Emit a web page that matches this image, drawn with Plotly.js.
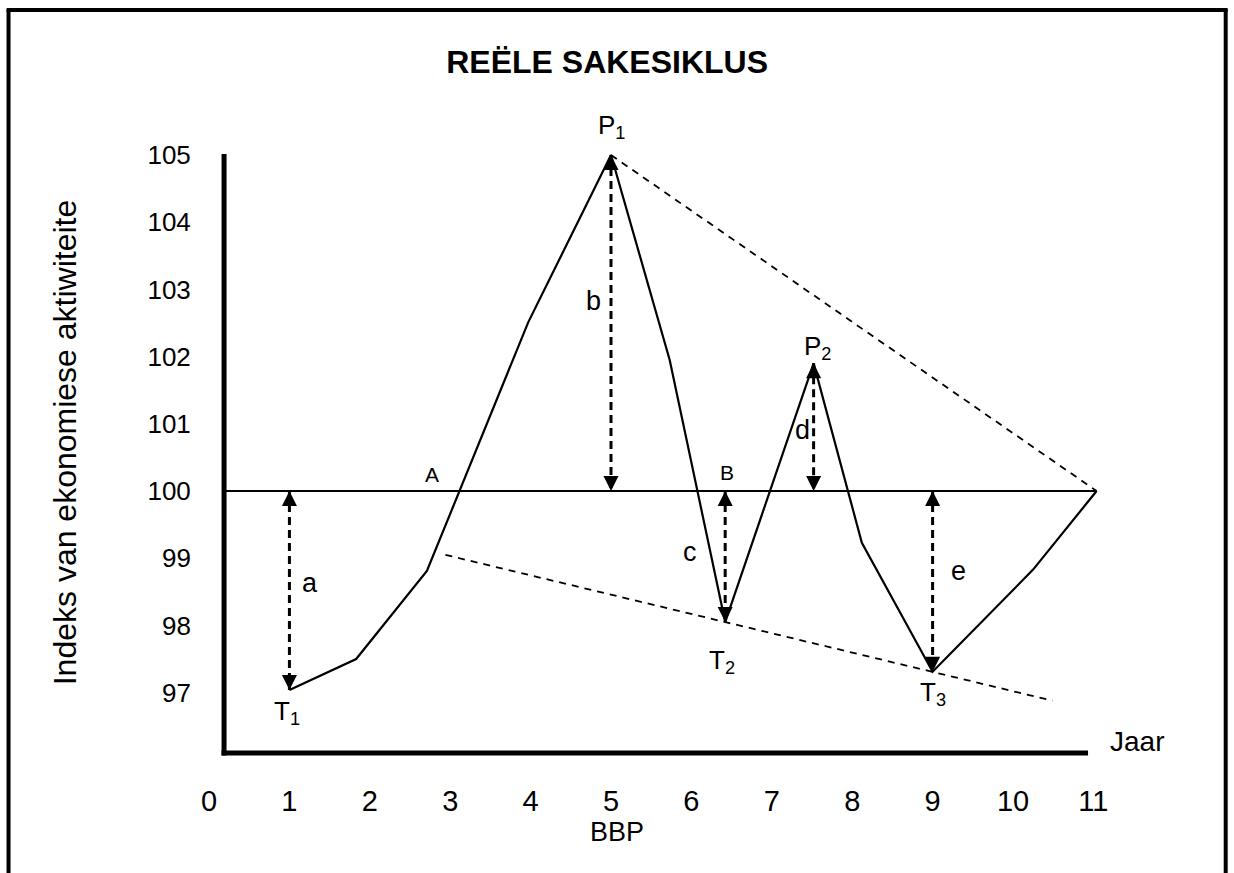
<!DOCTYPE html>
<html>
<head>
<meta charset="utf-8">
<script src="https://cdn.plot.ly/plotly-3.0.1.min.js"></script>
<style>html,body{margin:0;padding:0;background:#fff;}#chart{width:1234px;height:873px;}</style>
</head>
<body>
<div id="chart"></div>
<script>
// ---- data ----
var cycleX = [1, 1.83, 2.71, 3.97, 5.0, 5.73, 6.42, 7.52, 8.12, 9.0, 10.25, 11.04];
var cycleY = [97.04, 97.50, 98.81, 102.51, 105.0, 101.95, 98.05, 101.90, 99.23, 97.31, 98.83, 100.0];

var baseX = [0.19, 11.04];
var baseY = [100, 100];

var upperTrendX = [5.0, 11.04];
var upperTrendY = [105.0, 100.0];
var lowerTrendX = [2.94, 10.49];
var lowerTrendY = [99.05, 96.88];

// double-headed dashed arrows: x position, top value, bottom value
var arrowX = [1, 5.0, 6.42, 7.52, 9.0];
var arrowTop = [100, 105.0, 100, 101.90, 100];
var arrowBottom = [97.04, 100, 98.05, 100, 97.31];

var xTicks = [0, 1, 2, 3, 4, 5, 6, 7, 8, 9, 10, 11];
var yTicks = [97, 98, 99, 100, 101, 102, 103, 104, 105];

var labelText = ['P<sub>1</sub>', 'P<sub>2</sub>', 'T<sub>1</sub>', 'T<sub>2</sub>', 'T<sub>3</sub>', 'a', 'b', 'c', 'd', 'e', 'A', 'B'];
var labelX = [5.0, 7.57, 0.97, 6.38, 9.0, 1.26, 4.78, 5.98, 7.38, 9.32, 2.77, 6.44];
var labelY = [105.42, 102.14, 96.71, 97.46, 96.99, 98.63, 102.83, 99.09, 100.91, 98.81, 100.24, 100.28];
var labelSize = [26, 26, 26, 26, 26, 27, 27, 27, 27, 27, 21, 21];

// ---- build ----
var FONT = 'Liberation Sans, Arial, sans-serif';
var traces = [];
traces.push({x: baseX, y: baseY, mode: 'lines', line: {color: '#000', width: 2}, hoverinfo: 'skip', showlegend: false});
traces.push({x: upperTrendX, y: upperTrendY, mode: 'lines', line: {color: '#000', width: 1.8, dash: '7px,6px'}, showlegend: false});
traces.push({x: lowerTrendX, y: lowerTrendY, mode: 'lines', line: {color: '#000', width: 1.8, dash: '7px,6px'}, showlegend: false});
traces.push({x: cycleX, y: cycleY, mode: 'lines', line: {color: '#000', width: 2.2}, showlegend: false});
for (var i = 0; i < arrowX.length; i++) {
  traces.push({
    x: [arrowX[i], arrowX[i]], y: [arrowTop[i], arrowBottom[i]],
    mode: 'lines+markers',
    line: {color: '#000', width: 3, dash: '8px,5px'},
    marker: {color: '#000', size: 15, symbol: ['arrow-up', 'arrow-down']},
    showlegend: false
  });
}

var annotations = [];
for (var j = 0; j < labelText.length; j++) {
  annotations.push({x: labelX[j], y: labelY[j], xref: 'x', yref: 'y', text: labelText[j], showarrow: false,
    font: {family: FONT, size: labelSize[j], color: '#000'}, xanchor: 'center', yanchor: 'middle'});
}
annotations.push({x: 0.9355, y: 0.1405, xref: 'paper', yref: 'paper', text: 'Jaar', showarrow: false,
  font: {family: FONT, size: 28, color: '#000'}, xanchor: 'center', yanchor: 'middle'});

var shapes = [
  // outer frame (open at the bottom)
  {type: 'line', xref: 'paper', yref: 'paper', x0: -0.0096, x1: -0.0096, y0: -0.05, y1: 1.0204, line: {color: '#000', width: 4}},
  {type: 'line', xref: 'paper', yref: 'paper', x0: -0.0112, x1: 1.0114, y0: 1.0192, y1: 1.0192, line: {color: '#000', width: 4}},
  {type: 'line', xref: 'paper', yref: 'paper', x0: 1.0098, x1: 1.0098, y0: -0.05, y1: 1.0204, line: {color: '#000', width: 4}},
  // axis lines
  {type: 'line', xref: 'paper', yref: 'paper', x0: 0.1709, x1: 0.1709, y0: 0.1243, y1: 0.8463, line: {color: '#000', width: 5}},
  {type: 'line', xref: 'paper', yref: 'paper', x0: 0.1688, x1: 0.8945, y0: 0.1273, y1: 0.1273, line: {color: '#000', width: 5}}
];

var layout = {
  width: 1234, height: 873,
  margin: {l: 20, r: 20, t: 26, b: 14},
  paper_bgcolor: '#fff', plot_bgcolor: '#fff',
  font: {family: FONT, color: '#000'},
  title: {text: '<b>REËLE SAKESIKLUS</b>', x: 0.492, xanchor: 'center', y: 0.929, yanchor: 'middle',
    font: {family: FONT, size: 32, color: '#000'}},
  xaxis: {range: [-2.351, 12.5], tickvals: xTicks, ticktext: xTicks.map(String),
    showgrid: false, zeroline: false, showline: false,
    ticks: 'outside', ticklen: 22, tickcolor: 'rgba(0,0,0,0)',
    anchor: 'free', position: 0.1273,
    tickfont: {family: FONT, size: 29, color: '#000'},
    title: {text: 'BBP', font: {family: FONT, size: 27, color: '#000'}, standoff: 4}},
  yaxis: {range: [94.524, 106.920], tickvals: yTicks, ticktext: yTicks.map(String),
    showgrid: false, zeroline: false, showline: false,
    ticks: 'outside', ticklen: 28, tickcolor: 'rgba(0,0,0,0)',
    anchor: 'free', position: 0.1709,
    tickfont: {family: FONT, size: 26, color: '#000'},
    title: {text: 'Indeks van ekonomiese aktiwiteite', font: {family: FONT, size: 32, color: '#000'}, standoff: 60}},
  shapes: shapes,
  annotations: annotations,
  showlegend: false
};

Plotly.newPlot('chart', traces, layout, {displayModeBar: false, staticPlot: true});
</script>
</body>
</html>
